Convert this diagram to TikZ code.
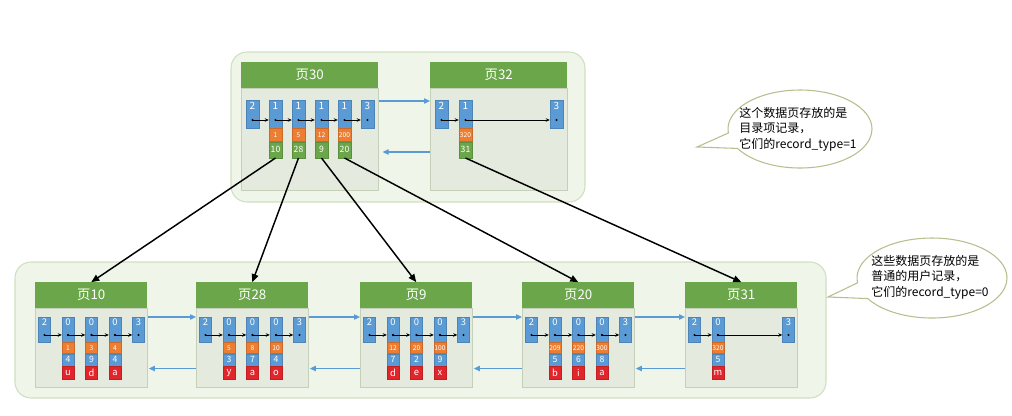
\documentclass[tikz,border=0pt]{standalone}
\usepackage{fontspec}
\setmainfont{Noto Sans CJK SC}
\usetikzlibrary{arrows.meta,shapes.callouts}

\definecolor{headgreen}{HTML}{6BA74A}
\definecolor{bodyfill}{HTML}{E4EADD}
\definecolor{bodyline}{HTML}{C5D0BA}
\definecolor{outerfill}{HTML}{EFF5E8}
\definecolor{outerline}{HTML}{CFE0C0}
\definecolor{recblue}{HTML}{5B9BD5}
\definecolor{keyorange}{HTML}{ED7D31}
\definecolor{colred}{HTML}{E2252A}
\definecolor{linkblue}{HTML}{5B9BD5}
\definecolor{noteline}{HTML}{B9BE8E}

\tikzset{
  outer/.style={draw=outerline, fill=outerfill, rounded corners=12pt, line width=0.8pt},
  pagebody/.style={draw=bodyline, fill=bodyfill, inner sep=0pt, minimum width=#1},
  pagehead/.style={fill=headgreen, text=white, inner sep=0pt, minimum width=#1,
    minimum height=19pt, font=\fontsize{10}{12}\selectfont},
  cell/.style={inner sep=0pt, text=white, fill=#1, draw=#1!85!black, line width=0.3pt},
  toprec/.style={cell=recblue, minimum width=9.75pt, text height=6pt, text depth=13pt,
    inner ysep=1pt, font=\fontsize{7.5}{8}\selectfont},
  topkey/.style={cell=keyorange, minimum width=9.75pt, minimum height=9.75pt, font=\fontsize{5}{5}\selectfont},
  topptr/.style={cell=headgreen, minimum width=9.75pt, minimum height=12pt, font=\fontsize{6.5}{7}\selectfont},
  botrec/.style={cell=recblue, minimum width=9pt, text height=5.5pt, text depth=11.25pt,
    inner ysep=1pt, font=\fontsize{7}{8}\selectfont},
  botkey/.style={cell=keyorange, minimum width=9pt, minimum height=8.25pt, font=\fontsize{5}{5}\selectfont},
  botid/.style={cell=recblue, minimum width=9pt, minimum height=9pt, font=\fontsize{6.5}{7}\selectfont},
  botcol/.style={cell=colred, minimum width=9pt, minimum height=9.75pt, font=\fontsize{7}{7}\selectfont},
  chain/.style={-{Stealth[length=3pt,width=2.6pt]}, line width=0.5pt},
  link/.style={linkblue, -{Triangle[length=4.5pt,width=4pt]}, line width=0.9pt},
  tree/.style={-{Triangle[length=6pt,width=5pt]}, line width=1.1pt},
  note/.style={ellipse callout, draw=noteline, fill=white, line width=0.8pt, callout pointer arc=24},
  notetext/.style={align=left, font=\fontsize{9}{11.5}\selectfont},
}

\begin{document}
\begin{tikzpicture}[x=0.75pt,y=-0.75pt]
\useasboundingbox (0,0) rectangle (1012,415);

% containers
\draw[outer] (231,52) rectangle (585,202);
\draw[outer] (15,262) rectangle (826,398);

% directory pages
\node[pagebody=102.75pt, minimum height=76.5pt, anchor=north west] (body30) at (241,88) {};
\node[pagehead=102.75pt, anchor=south west] (p30) at (body30.north west) {页30};
\node[pagebody=102.75pt, minimum height=76.5pt, anchor=north west] (body32) at (430,88) {};
\node[pagehead=102.75pt, anchor=south west] (p32) at (body32.north west) {页32};

\foreach \n/\i in {2/0,1/1,1/2,1/3,1/4,3/5}
  \node[toprec] (a\i) at (252.5+23*\i,114) {\n};
\foreach \k/\p/\i in {1/10/1,5/28/2,12/9/3,200/20/4} {
  \node[topkey, anchor=north] (k\i) at (a\i.south) {\k};
  \node[topptr, anchor=north] (g\i) at (k\i.south) {\p};
}
\foreach \i/\j in {0/1,1/2,2/3,3/4,4/5}
  \draw[chain] ([yshift=-4.5pt]a\i.center) -- ([yshift=-4.5pt]a\j.west);
\foreach \i in {0,...,5}
  \fill ([yshift=-4.5pt]a\i.center) circle (0.8pt);

\node[toprec] (c0) at (441.5,114) {2};
\node[toprec] (c1) at (465.5,114) {1};
\node[toprec] (c2) at (556.5,114) {3};
\node[topkey, anchor=north] (ck1) at (c1.south) {320};
\node[topptr, anchor=north] (cg1) at (ck1.south) {31};
\draw[chain] ([yshift=-4.5pt]c0.center) -- ([yshift=-4.5pt]c1.west);
\draw[chain] ([yshift=-4.5pt]c1.center) -- ([yshift=-4.5pt]c2.west);
\foreach \i in {0,1,2}
  \fill ([yshift=-4.5pt]c\i.center) circle (0.8pt);

\draw[link] ([yshift=-9.75pt]body30.north east) -- ([yshift=-9.75pt]body32.north west);
\draw[link] ([yshift=-48pt]body32.north west) -- ([xshift=3pt,yshift=-48pt]body30.north east);

% user record pages
\foreach \pg/\L in {10/35,28/196,9/360,20/522,31/685} {
  \node[pagebody=84pt, minimum height=59.25pt, anchor=north west] (body\pg) at (\L,308) {};
  \node[pagehead=84pt, anchor=south west] (p\pg) at (body\pg.north west) {页\pg};
  \node[botrec] (r\pg-0) at (\L+9.5,329.5) {2};
  \node[botrec] (r\pg-4) at (\L+103.5,329.5) {3};
}
\foreach \pg/\L/\i/\k/\n/\c in {10/35/1/1/4/u,10/35/2/3/9/d,10/35/3/4/4/a,
    28/196/1/5/3/y,28/196/2/8/7/a,28/196/3/10/4/o,
    9/360/1/12/7/d,9/360/2/20/2/e,9/360/3/100/9/x,
    20/522/1/209/5/b,20/522/2/220/6/i,20/522/3/300/8/a,
    31/685/1/320/5/m} {
  \node[botrec] (r\pg-\i) at (\L+9.5+23.5*\i,329.5) {0};
  \node[botkey, anchor=north] (k\pg-\i) at (r\pg-\i.south) {\k};
  \node[botid, anchor=north] (d\pg-\i) at (k\pg-\i.south) {\n};
  \node[botcol, anchor=north] (v\pg-\i) at (d\pg-\i.south) {\c};
}
\foreach \pg in {10,28,9,20}
  \foreach \i/\j in {0/1,1/2,2/3,3/4} {
    \draw[chain] ([yshift=-4.1pt]r\pg-\i.center) -- ([yshift=-4.1pt]r\pg-\j.west);
    \fill ([yshift=-4.1pt]r\pg-\i.center) circle (0.8pt);
    \fill ([yshift=-4.1pt]r\pg-\j.center) circle (0.8pt);
  }
\foreach \i/\j in {0/1,1/4} {
  \draw[chain] ([yshift=-4.1pt]r31-\i.center) -- ([yshift=-4.1pt]r31-\j.west);
  \fill ([yshift=-4.1pt]r31-\i.center) circle (0.8pt);
  \fill ([yshift=-4.1pt]r31-\j.center) circle (0.8pt);
}

\foreach \a/\b in {10/28,28/9,9/20,20/31} {
  \draw[link] ([yshift=-6.75pt]body\a.north east) -- ([yshift=-6.75pt]body\b.north west);
  \draw[link] ([yshift=14.25pt]body\b.south west) -- ([xshift=1pt,yshift=14.25pt]body\a.south east);
}

% tree links
\draw[tree] (g1.south) -- (p10.north);
\draw[tree] (g2.south) -- (p28.north);
\draw[tree] (g3.south) -- (p9.north);
\draw[tree] (g4.south) -- (p20.north);
\draw[tree] (cg1.south) -- (p31.north);

% notes
\node[note, minimum width=108pt, minimum height=58.5pt, callout absolute pointer={(697,147)}] (note1) at (800,129) {};
\node[notetext] (text1) at (798,129) {这个数据页存放的是\\目录项记录，\\它们的record\_type=1};
\node[note, minimum width=112.5pt, minimum height=60pt, callout absolute pointer={(828,297)}] (note2) at (932,278) {};
\node[notetext] (text2) at (930,277) {这些数据页存放的是\\普通的用户记录，\\它们的record\_type=0};
\end{tikzpicture}
\end{document}
